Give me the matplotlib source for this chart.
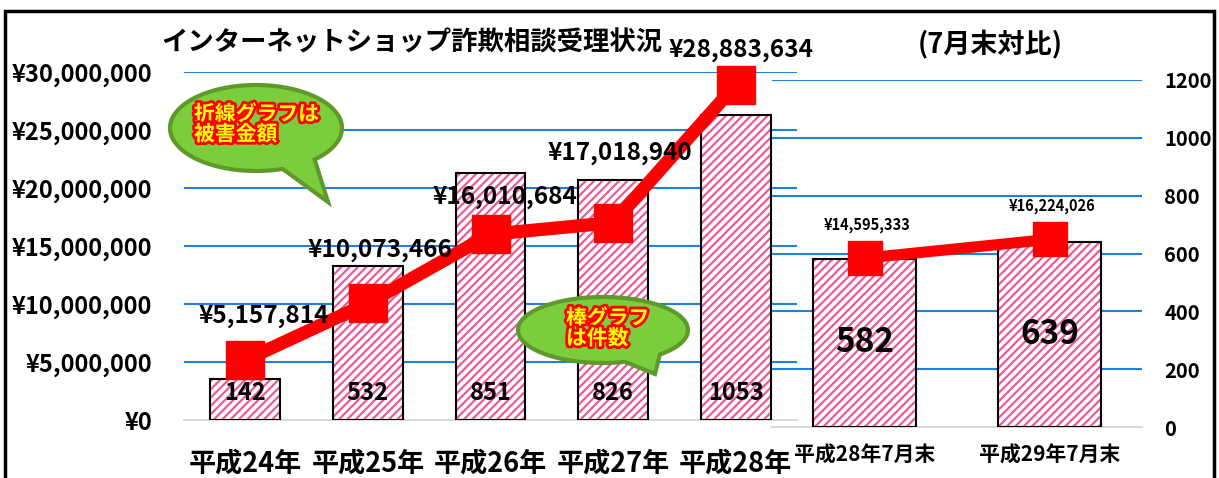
import numpy as np
import matplotlib
matplotlib.use("Agg")
import matplotlib.pyplot as plt
from matplotlib.patches import Rectangle, PathPatch
from matplotlib.path import Path
import matplotlib.patheffects as pe

plt.rcParams['font.family'] = ['Noto Sans CJK JP', 'DejaVu Sans']
plt.rcParams['font.weight'] = 'bold'
plt.rcParams['hatch.linewidth'] = 1.6

# ---------------- data ----------------
categories_L = ['平成24年', '平成25年', '平成26年', '平成27年', '平成28年']
counts_L = [142, 532, 851, 826, 1053]
amounts_L = [5157814, 10073466, 16010684, 17018940, 28883634]

categories_R = ['平成28年7月末', '平成29年7月末']
counts_R = [582, 639]
amounts_R = [14595333, 16224026]

money_ticks = [0, 5000000, 10000000, 15000000, 20000000, 25000000, 30000000]
count_ticks = [0, 200, 400, 600, 800, 1000, 1200]

title_main = 'インターネットショップ詐欺相談受理状況'
title_sub = '(7月末対比)'
bubble1_text = '折線グラフは\n被害金額'
bubble2_text = '棒グラフ\nは件数'

# ---------------- style ----------------
W, H = 1219, 478
GRID = '#1f80e0'
BASE = '#d9d9d9'
HATCH = '#ea5a98'
LINE = '#ff0000'

fig = plt.figure(figsize=(W / 100, H / 100), dpi=100)


def fx(x):
    return x / W


def fy(y):
    return 1 - y / H


def style_axes(ax):
    for s in ['left', 'right', 'top']:
        ax.spines[s].set_visible(False)
    ax.spines['bottom'].set_color(BASE)
    ax.spines['bottom'].set_linewidth(1.5)
    ax.patch.set_alpha(0)


def draw_bars(ax, x, h, width):
    ax.bar(x, h, width=width, color='white', edgecolor=HATCH, hatch='////',
           linewidth=0, zorder=2)
    ax.bar(x, h, width=width, fill=False, edgecolor='black', linewidth=1.5,
           zorder=3)


# ---------------- left panel ----------------
axL = fig.add_axes([fx(184), 1 - 420 / H, 613 / W, 348 / H])
axL2 = axL.twinx()
style_axes(axL)
xL = np.arange(len(categories_L))
axL.set_xlim(-0.5, len(categories_L) - 0.5)
axL.set_ylim(count_ticks[0], count_ticks[-1])
for t in count_ticks[1:]:
    axL.axhline(t, color=GRID, lw=1.5, zorder=1)
draw_bars(axL, xL, counts_L, 0.57)
axL.set_yticks(count_ticks)
axL.tick_params(axis='y', left=False, labelleft=False, right=False,
                labelright=False)
axL.set_xticks(xL)
axL.set_xticklabels(categories_L, fontsize=19.5, fontweight='bold')
axL.tick_params(axis='x', length=0, pad=21)
for xi, c in zip(xL, counts_L):
    axL.annotate(str(c), (xi, 0), xytext=(0, 27), textcoords='offset pixels',
                 ha='center', va='center', fontsize=17, fontweight='bold',
                 zorder=5)

style_axes(axL2)
axL2.spines['bottom'].set_visible(False)
axL2.set_ylim(money_ticks[0], money_ticks[-1])
axL2.yaxis.tick_left()
axL2.set_yticks(money_ticks)
axL2.set_yticklabels(['¥{:,}'.format(v) for v in money_ticks], fontsize=17,
                     fontweight='bold')
axL2.tick_params(axis='y', length=0, pad=23)
axL2.plot(xL, amounts_L, color=LINE, lw=9.5, marker='s', markersize=27,
          solid_capstyle='butt', zorder=4, clip_on=False)
offL = [(18, 44), (12, 53), (14, 37), (7, 70), (5, 35)]
for xi, v, o in zip(xL, amounts_L, offL):
    axL2.annotate('¥{:,}'.format(v), (xi, v), xytext=o,
                  textcoords='offset pixels', ha='center', va='center',
                  fontsize=17.5, fontweight='bold', zorder=6)

# ---------------- right panel ----------------
axR = fig.add_axes([fx(772), 1 - 427 / H, 370 / W, 347 / H])
axR2 = axR.twinx()
style_axes(axR)
xR = np.arange(len(categories_R))
axR.set_xlim(-0.5, len(categories_R) - 0.5)
axR.set_ylim(count_ticks[0], count_ticks[-1])
for t in count_ticks[1:]:
    axR.axhline(t, color=GRID, lw=1.5, zorder=1)
draw_bars(axR, xR, counts_R, 0.56)
axR.yaxis.tick_right()
axR.set_yticks(count_ticks)
axR.set_yticklabels([str(v) for v in count_ticks], fontsize=14.5,
                    fontweight='bold')
axR.tick_params(axis='y', length=0, pad=16, left=False, labelleft=False,
                right=True, labelright=True)
axR.set_xticks(xR)
axR.set_xticklabels(categories_R, fontsize=15, fontweight='bold')
axR.tick_params(axis='x', length=0, pad=13)
for xi, c in zip(xR, counts_R):
    axR.text(xi, c / 2, str(c), ha='center', va='center', fontsize=24,
             fontweight='bold', zorder=5)

style_axes(axR2)
axR2.spines['bottom'].set_visible(False)
axR2.set_ylim(money_ticks[0], money_ticks[-1])
axR2.set_yticks([])
axR2.plot(xR, amounts_R, color=LINE, lw=8, marker='s', markersize=25,
          solid_capstyle='butt', zorder=4, clip_on=False)
for xi, v in zip(xR, amounts_R):
    axR2.annotate('¥{:,}'.format(v), (xi, v), xytext=(3, 33),
                  textcoords='offset pixels', ha='center', va='center',
                  fontsize=10.5, fontweight='bold', zorder=6)

# ---------------- titles ----------------
fig.text(fx(412), fy(43), title_main, ha='center', va='center', fontsize=19,
         fontweight='bold')
fig.text(fx(990), fy(45), title_sub, ha='center', va='center', fontsize=19.5,
         fontweight='bold')


# ---------------- speech bubbles ----------------
def bubble(cx, cy, a, b, t1, t2, tip, text, tx, ty, fs):
    ts = np.radians(np.linspace(t1, t2 + 360, 120))
    pts = [(fx(cx + a * np.cos(t)), fy(cy + b * np.sin(t))) for t in ts]
    pts.append((fx(tip[0]), fy(tip[1])))
    pts.append(pts[0])
    codes = [Path.MOVETO] + [Path.LINETO] * (len(pts) - 2) + [Path.CLOSEPOLY]
    patch = PathPatch(Path(pts, codes), facecolor='#7ccd3c',
                      edgecolor='#5e9a2a', lw=3, transform=fig.transFigure,
                      zorder=10, joinstyle='miter')
    fig.patches.append(patch)
    fig.text(fx(tx), fy(ty), text, ha='left', va='center', fontsize=fs,
             fontweight='bold', color='#ffff00', linespacing=0.95, zorder=11,
             multialignment='left',
             path_effects=[pe.withStroke(linewidth=4, foreground='#ff0000')])


bubble(256, 128, 86, 43, 72, 47, (328, 202), bubble1_text, 194, 124, 15)
bubble(603, 330, 85, 33, 75, 48, (655, 374), bubble2_text, 566, 328, 15)

# ---------------- frame ----------------
fig.patches.append(Rectangle((fx(5), fy(H + 10)), fx(1209), (H - 1) / H,
                             fill=False, edgecolor='black', lw=2.5,
                             transform=fig.transFigure, zorder=20))

fig.savefig('out.png', dpi=100)
